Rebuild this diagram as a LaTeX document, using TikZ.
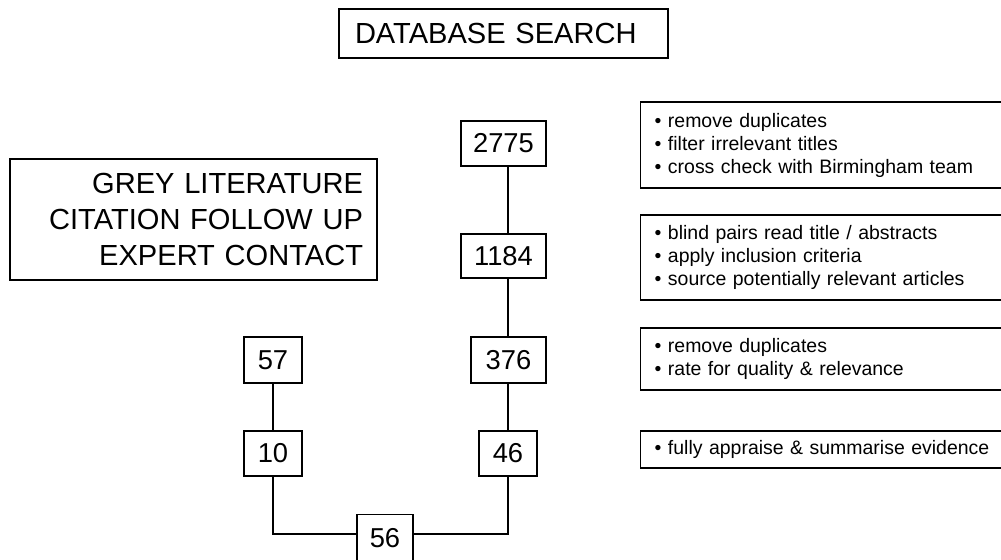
\documentclass[tikz,border=0pt]{standalone}
\usepackage{fontspec}
\setmainfont{Liberation Sans}
\begin{document}
\begin{tikzpicture}[x=0.75pt,y=-0.75pt,
  line width=1pt,
  numbox/.style={draw, rectangle, inner sep=0pt, font=\fontsize{20.5}{24}\selectfont},
  headbox/.style={draw, rectangle, inner xsep=12pt, inner ysep=0pt, font=\fontsize{21.8}{27}\selectfont},
  notebox/.style={draw, rectangle, anchor=west, inner xsep=10.5pt, inner ysep=0pt,
    minimum width=301pt, text width=280pt, align=left,
    font=\fontsize{14.6}{17.25}\selectfont},
  link/.style={line width=1pt}]
\useasboundingbox (0,0) rectangle (1001,560);

% headings
\node[headbox, minimum width=246.75pt, minimum height=36.75pt, text width=222.75pt, align=left]
  (db) at (503.5,33.5) {DATABASE SEARCH};
\node[headbox, inner xsep=10.5pt, minimum width=275.25pt, minimum height=90.75pt, text width=254.25pt, align=right]
  (grey) at (193.5,219.5) {GREY LITERATURE\\CITATION FOLLOW UP\\EXPERT CONTACT};

% database search branch
\node[numbox, minimum width=63.75pt, minimum height=33.75pt] (n2775) at (503.5,143.5) {2775};
\node[numbox, minimum width=63.75pt, minimum height=33pt]    (n1184) at (503.5,256) {1184};
\node[numbox, minimum width=56.25pt, minimum height=34.5pt]  (n376)  at (508.5,360) {376};
\node[numbox, minimum width=43.5pt,  minimum height=33.75pt] (n46)   at (508,453.5) {46};

% other sources branch
\node[numbox, minimum width=43.5pt, minimum height=34.5pt]  (n57) at (273,360) {57};
\node[numbox, minimum width=43.5pt, minimum height=33.75pt] (n10) at (273,453.5) {10};

% combined total
\node[numbox, minimum width=42pt, minimum height=35.25pt] (n56) at (385,538) {56};

\coordinate (jr) at (508,534);
\coordinate (jl) at (273,534);

\draw[link] (n2775.south -| jr) -- (n1184.north -| jr);
\draw[link] (n1184.south -| jr) -- (n376.north -| jr);
\draw[link] (n376.south -| jr) -- (n46.north -| jr);
\draw[link] (n46.south -| jr) -- (jr) -- (n56.east |- jr);
\draw[link] (n57) -- (n10);
\draw[link] (n10.south -| jl) -- (jl) -- (n56.west |- jl);

% process notes
\node[notebox, minimum height=64.5pt] (s1) at (640,145)
  {• remove duplicates\\• filter irrelevant titles\\• cross check with Birmingham team};
\node[notebox, minimum height=63.75pt] (s2) at (640,257.5)
  {• blind pairs read title / abstracts\\• apply inclusion criteria\\• source potentially relevant articles};
\node[notebox, minimum height=46.5pt] (s3) at (640,359)
  {• remove duplicates\\• rate for quality \& relevance};
\node[notebox, minimum height=27.75pt] (s4) at (640,449.5)
  {• fully appraise \& summarise evidence};
\end{tikzpicture}
\end{document}
